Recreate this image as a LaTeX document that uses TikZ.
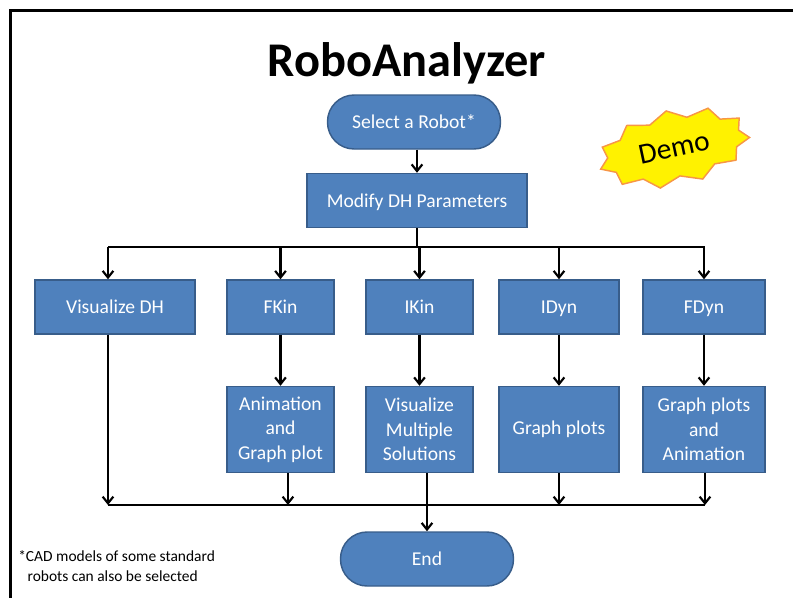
\documentclass[tikz,border=0pt]{standalone}
\usepackage{fontspec}
\setmainfont{Carlito}
\usetikzlibrary{arrows.meta,shapes.symbols}
\definecolor{boxfill}{HTML}{4F81BD}
\definecolor{boxline}{HTML}{385D8A}
\definecolor{burstline}{HTML}{F79646}

\begin{document}
\begin{tikzpicture}[x=0.75pt,y=-0.75pt]
	\tikzstyle{Box}=[draw=boxline,fill=boxfill,text=white,line width=1.1pt,inner sep=0pt,align=center,font=\fontsize{14.7}{18.4}\selectfont,minimum height=40.5pt]
	\tikzstyle{Line}=[Box,text height=2.5ex,text depth=0.45ex]
	\tikzstyle{Terminal}=[Line,rounded corners=20pt,minimum width=129.75pt]
	\tikzstyle{Tall}=[Box,minimum height=64.5pt]
	\tikzstyle{Flow}=[line width=1.6pt,-{Straight Barb[length=5pt,width=8pt]}]
	\useasboundingbox (0,0) rectangle (793,597);
	\clip (0,0) rectangle (793,597);
	\draw[line width=2.25pt] (10,620) -- (10,10) -- (820,10);
	\node[anchor=base,font=\fontsize{36.3}{40}\selectfont\bfseries] (Title) at (407,76) {RoboAnalyzer};
	\node[draw=burstline,fill=yellow,line width=1.1pt,starburst,starburst points=11,starburst point height=7pt,random starburst=0,
		inner xsep=9pt,inner ysep=8pt,rotate=12,font=\fontsize{22}{24}\selectfont] (Demo) at (674,148) {Demo};
	% flow chart
	\node[Terminal] (Select) at (414,122) {Select a Robot*};
	\node[Line,minimum width=165pt] (Modify) at (417,200.5) {Modify DH Parameters};
	\node[Line,minimum width=120pt] (VisDH) at (115,307) {Visualize DH};
	\node[Line,minimum width=80.25pt] (FKin) at (280.5,307) {FKin};
	\node[Line,minimum width=80.25pt] (IKin) at (419.5,307) {IKin};
	\node[Line,minimum width=90pt] (IDyn) at (559,307) {IDyn};
	\node[Line,minimum width=91.5pt] (FDyn) at (704,307) {FDyn};
	\node[Tall,minimum width=80.25pt] (Anim) at (280.5,429.5) {Animation\\and\\Graph plot};
	\node[Tall,minimum width=80.25pt] (VisMulti) at (419.5,429.5) {Visualize\\Multiple\\Solutions};
	\node[Tall,minimum width=90pt] (Graph) at (559,429.5) {Graph plots};
	\node[Tall,minimum width=91.5pt] (GraphAnim) at (704,429.5) {Graph plots\\and\\Animation};
	\node[Terminal] (End) at (427,559) {End};
	\node[anchor=north west,align=left,inner sep=0pt,font=\fontsize{11.6}{15}\selectfont] (Note) at (18,550)
		{*CAD models of some standard\\\hspace*{7pt}robots can also be selected};
	% buses
	\coordinate (TopL) at (108,247);
	\coordinate (TopR) at (705,247);
	\coordinate (BotL) at (108,505);
	\coordinate (BotR) at (705,505);
	\draw[Flow] (Select.south -| Modify.north) -- (Modify.north);
	\draw[line width=1.6pt] (Modify.south) -- (Modify.south |- TopL);
	\draw[line width=1.6pt] (TopL) -- (TopR);
	\draw[line width=1.6pt] (BotL) -- (BotR);
	\draw[Flow] (TopL) -- (TopL |- VisDH.north);
	\foreach \n in {FKin,IKin,IDyn,FDyn}
		\draw[Flow] (\n.north |- TopL) -- (\n.north);
	\foreach \a/\b in {FKin/Anim,IKin/VisMulti,IDyn/Graph,FDyn/GraphAnim}
		\draw[Flow] (\a) -- (\b);
	\draw[Flow] (TopL |- VisDH.south) -- (BotL);
	\draw[Flow] ([xshift=5.6pt]Anim.south) -- ([xshift=5.6pt]Anim.south |- BotL);
	\draw[Flow] (Graph.south) -- (Graph.south |- BotL);
	\draw[Flow] (GraphAnim.south -| BotR) -- (BotR);
	\draw[Flow] (End.north |- VisMulti.south) -- (End.north);
\end{tikzpicture}
\end{document}
